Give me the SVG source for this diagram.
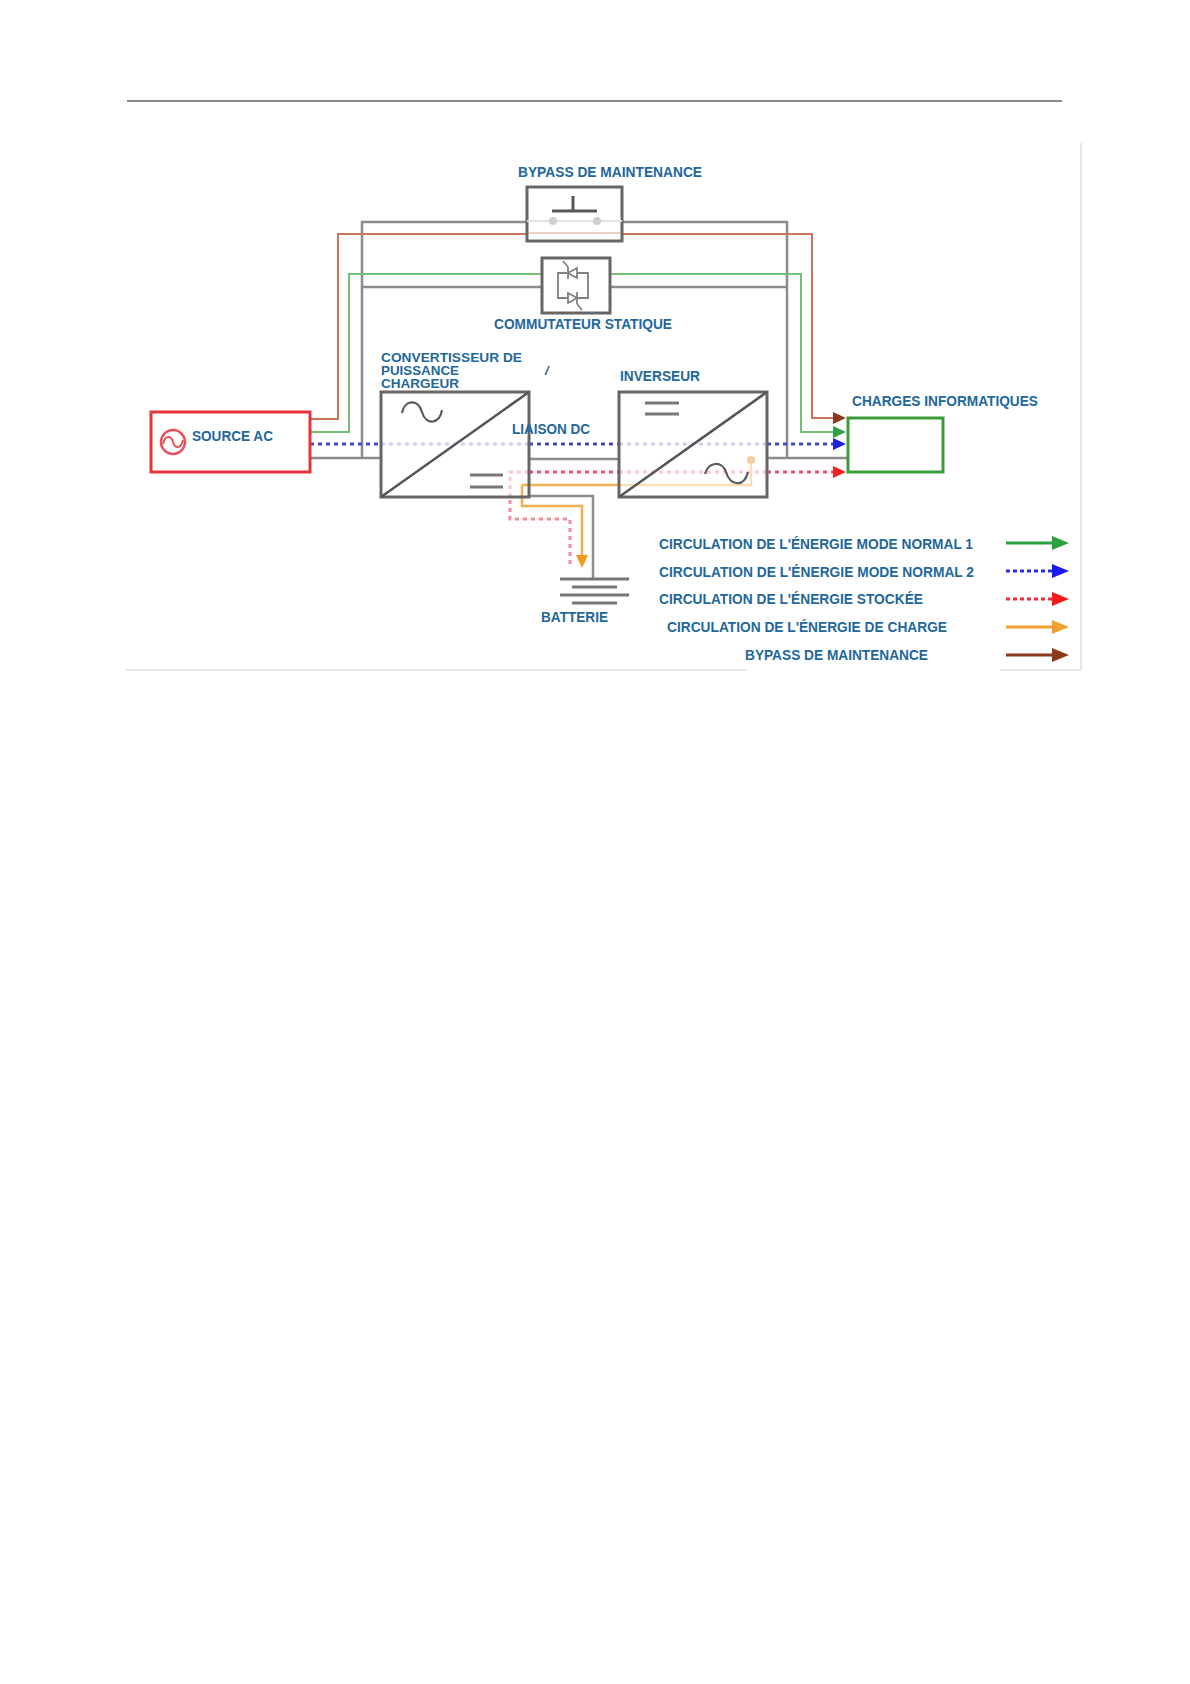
<svg xmlns="http://www.w3.org/2000/svg" width="1190" height="1684" viewBox="0 0 1190 1684">
<style>
.lbl{font-family:"Liberation Sans",Arial,sans-serif;font-weight:bold;font-size:14px;fill:#22679b}
.box{fill:none;stroke:#666;stroke-width:3}
.sym{fill:none;stroke:#5a5a5a;stroke-width:2.2}
.thy{fill:none;stroke:#808080;stroke-width:1.8}
.gw{fill:none;stroke:#8c8c8c;stroke-width:2.5}
.brw{fill:none;stroke:#c8755a;stroke-width:2}
.grn{fill:none;stroke:#72c172;stroke-width:2}
.blu{fill:none;stroke:#4848c8;stroke-width:3;stroke-dasharray:4 4}
.bluP{fill:none;stroke:#cfcfea;stroke-width:3;stroke-dasharray:4 4}
.red{fill:none;stroke:#e8506a;stroke-width:3;stroke-dasharray:4 4}
.redM{fill:none;stroke:#ee8c9c;stroke-width:3;stroke-dasharray:4 4}
.redP{fill:none;stroke:#f6cad2;stroke-width:3;stroke-dasharray:4 4}
.org{fill:none;stroke:#f2b050;stroke-width:2.5}
.orgP{fill:none;stroke:#f9dfb8;stroke-width:2.5}
</style>
<rect width="1190" height="1684" fill="#fff"/>
<line x1="127" y1="101" x2="1062" y2="101" stroke="#8c8c8c" stroke-width="2"/>
<g id="frame" stroke="#e0e0e0" stroke-width="1.5" fill="none">
<path d="M126,670 H747"/>
<path d="M1000,670 H1081 V143"/>
</g>

<g id="connectors">
<path class="gw" d="M310,458 H381"/>
<path class="gw" d="M362,458 V222 H527"/>
<path class="gw" d="M362,287 H542"/>
<path class="gw" d="M622,222 H787 V458"/>
<path class="gw" d="M610,287 H787"/>
<path class="gw" d="M767,458 H848"/>
<path class="gw" d="M529,459 H619"/>
<path class="gw" d="M529,496 H593 V579"/>
<path class="brw" d="M310,419 H338 V234 H527"/>
<path d="M527,233 H622" stroke="#ecd2c6" stroke-width="2"/>
<path class="brw" d="M622,234 H812 V418 H834"/>
<polygon points="833,412 846,418 833,424" fill="#8b3a1f"/>
<path class="grn" d="M310,432 H349 V274 H542"/>
<path class="grn" d="M610,274 H801 V432 H834"/>
<polygon points="833,426 846,432 833,438" fill="#2e9e48"/>
<path class="blu" d="M310,444 H381"/>
<path class="bluP" d="M381,444 H529"/>
<path class="blu" d="M529,444 H619"/>
<path class="bluP" d="M619,444 H767"/>
<path class="blu" d="M767,444 H834"/>
<polygon points="833,438 846,444 833,450" fill="#2020e0"/>
<path class="redP" d="M529,472 H510 V497"/>
<path class="redM" d="M510,500 V519 H570 V568"/>
<path class="red" d="M529,472 H619"/>
<path class="redP" d="M619,472 H767"/>
<path class="red" d="M767,472 H834"/>
<polygon points="833,466 846,472 833,478" fill="#ee2020"/>
<path class="org" d="M522,485 H619"/>
<path class="orgP" d="M619,485 H751 V460"/>
<circle cx="751" cy="460" r="4" fill="#f8caa0"/>
<path class="org" d="M522,485 V506 H582 V556"/>
<polygon points="576,555 588,555 582,568" fill="#f09a20"/>
</g>

<g id="bypass">
<rect class="box" x="527" y="187" width="95" height="54"/>
<line x1="527" y1="221" x2="622" y2="221" stroke="#e2e2e2" stroke-width="2"/>
<circle cx="553" cy="221" r="4" fill="#cfcfcf"/>
<circle cx="597" cy="221" r="4" fill="#cfcfcf"/>
<line x1="552" y1="211" x2="597" y2="211" stroke="#555" stroke-width="3"/>
<line x1="573" y1="196" x2="573" y2="211" stroke="#555" stroke-width="3"/>
<text class="lbl" x="518" y="177" textLength="184" lengthAdjust="spacingAndGlyphs">BYPASS DE MAINTENANCE</text>
</g>

<g id="static-switch">
<rect class="box" x="542" y="258" width="68" height="55"/>
<path class="thy" d="M567,273 H558 V298 H568 M577,298 H588 V273 H577"/>
<path class="thy" d="M568,273 L577,268 L577,278 Z M568,267 V279 M568,267 L563,261"/>
<path class="thy" d="M568,293 L568,303 L577,298 Z M577,292 V304 M577,304 L582,310"/>
<text class="lbl" x="494" y="329" textLength="178" lengthAdjust="spacingAndGlyphs">COMMUTATEUR STATIQUE</text>
</g>

<g id="source-ac">
<rect x="151" y="412" width="159" height="60" fill="#fff" stroke="#e8333a" stroke-width="3"/>
<circle cx="173" cy="442" r="12" fill="none" stroke="#e8505a" stroke-width="2.5"/>
<path d="M163,444 C165,435 171,435 173,442 C175,449 181,449 183,440" fill="none" stroke="#e8505a" stroke-width="2"/>
<text class="lbl" x="192" y="441" textLength="81" lengthAdjust="spacingAndGlyphs">SOURCE AC</text>
</g>

<g id="converter">
<rect class="box" x="381" y="392" width="148" height="105"/>
<line x1="381" y1="497" x2="529" y2="392" stroke="#555" stroke-width="2.5"/>
<path class="sym" d="M402,413 C404,400 418,398 422,412 C426,426 440,424 442,410"/>
<line x1="470" y1="475" x2="503" y2="475" stroke="#777" stroke-width="3"/>
<line x1="470" y1="487" x2="503" y2="487" stroke="#777" stroke-width="3"/>
<text class="lbl" style="font-size:13px" x="381" y="362" textLength="141" lengthAdjust="spacingAndGlyphs">CONVERTISSEUR DE</text>
<text class="lbl" style="font-size:13px" x="381" y="375" textLength="78" lengthAdjust="spacingAndGlyphs">PUISSANCE</text>
<text class="lbl" style="font-size:13px" x="381" y="388" textLength="78" lengthAdjust="spacingAndGlyphs">CHARGEUR</text>
<text class="lbl" style="font-size:13px;font-style:italic" x="545" y="375">/</text>
</g>

<g id="dc-link">
<text class="lbl" x="512" y="434" textLength="78" lengthAdjust="spacingAndGlyphs">LIAISON DC</text>
</g>

<g id="inverter">
<rect class="box" x="619" y="392" width="148" height="105"/>
<line x1="619" y1="497" x2="767" y2="392" stroke="#555" stroke-width="2.5"/>
<line x1="645" y1="403" x2="679" y2="403" stroke="#777" stroke-width="3"/>
<line x1="645" y1="414" x2="679" y2="414" stroke="#777" stroke-width="3"/>
<path class="sym" d="M705,474 C708,462 722,460 726,472 C730,486 744,488 748,472"/>
<text class="lbl" x="620" y="381" textLength="80" lengthAdjust="spacingAndGlyphs">INVERSEUR</text>
</g>

<g id="charges">
<rect x="848" y="418" width="95" height="54" fill="none" stroke="#3c9c3c" stroke-width="3"/>
<text class="lbl" x="852" y="406" textLength="186" lengthAdjust="spacingAndGlyphs">CHARGES INFORMATIQUES</text>
</g>

<g id="battery" stroke="#777" stroke-width="3">
<line x1="560" y1="579" x2="629" y2="579"/>
<line x1="572" y1="587" x2="617" y2="587"/>
<line x1="560" y1="595" x2="629" y2="595"/>
<line x1="572" y1="603" x2="617" y2="603"/>
<text class="lbl" stroke="none" x="541" y="622" textLength="67" lengthAdjust="spacingAndGlyphs">BATTERIE</text>
</g>

<g id="legend">
<text class="lbl" x="659" y="549" textLength="314" lengthAdjust="spacingAndGlyphs">CIRCULATION DE L'ÉNERGIE MODE NORMAL 1</text>
<text class="lbl" x="659" y="577" textLength="315" lengthAdjust="spacingAndGlyphs">CIRCULATION DE L'ÉNERGIE MODE NORMAL 2</text>
<text class="lbl" x="659" y="604" textLength="264" lengthAdjust="spacingAndGlyphs">CIRCULATION DE L'ÉNERGIE STOCKÉE</text>
<text class="lbl" x="667" y="632" textLength="280" lengthAdjust="spacingAndGlyphs">CIRCULATION DE L'ÉNERGIE DE CHARGE</text>
<text class="lbl" x="745" y="660" textLength="183" lengthAdjust="spacingAndGlyphs">BYPASS DE MAINTENANCE</text>
<line x1="1006" y1="543" x2="1053" y2="543" stroke="#2ca040" stroke-width="3"/>
<polygon points="1052,536 1069,543 1052,550" fill="#2ca040"/>
<line x1="1006" y1="571" x2="1053" y2="571" stroke="#2a2af0" stroke-width="3" stroke-dasharray="4 3"/>
<polygon points="1052,564 1069,571 1052,578" fill="#1a1af5"/>
<line x1="1006" y1="599" x2="1053" y2="599" stroke="#f02a3a" stroke-width="3" stroke-dasharray="4 3"/>
<polygon points="1052,592 1069,599 1052,606" fill="#f51a1a"/>
<line x1="1006" y1="627" x2="1053" y2="627" stroke="#f0a030" stroke-width="3"/>
<polygon points="1052,620 1069,627 1052,634" fill="#f0a030"/>
<line x1="1006" y1="655" x2="1053" y2="655" stroke="#8b3a1f" stroke-width="3"/>
<polygon points="1052,648 1069,655 1052,662" fill="#8b3a1f"/>
</g>
</svg>
